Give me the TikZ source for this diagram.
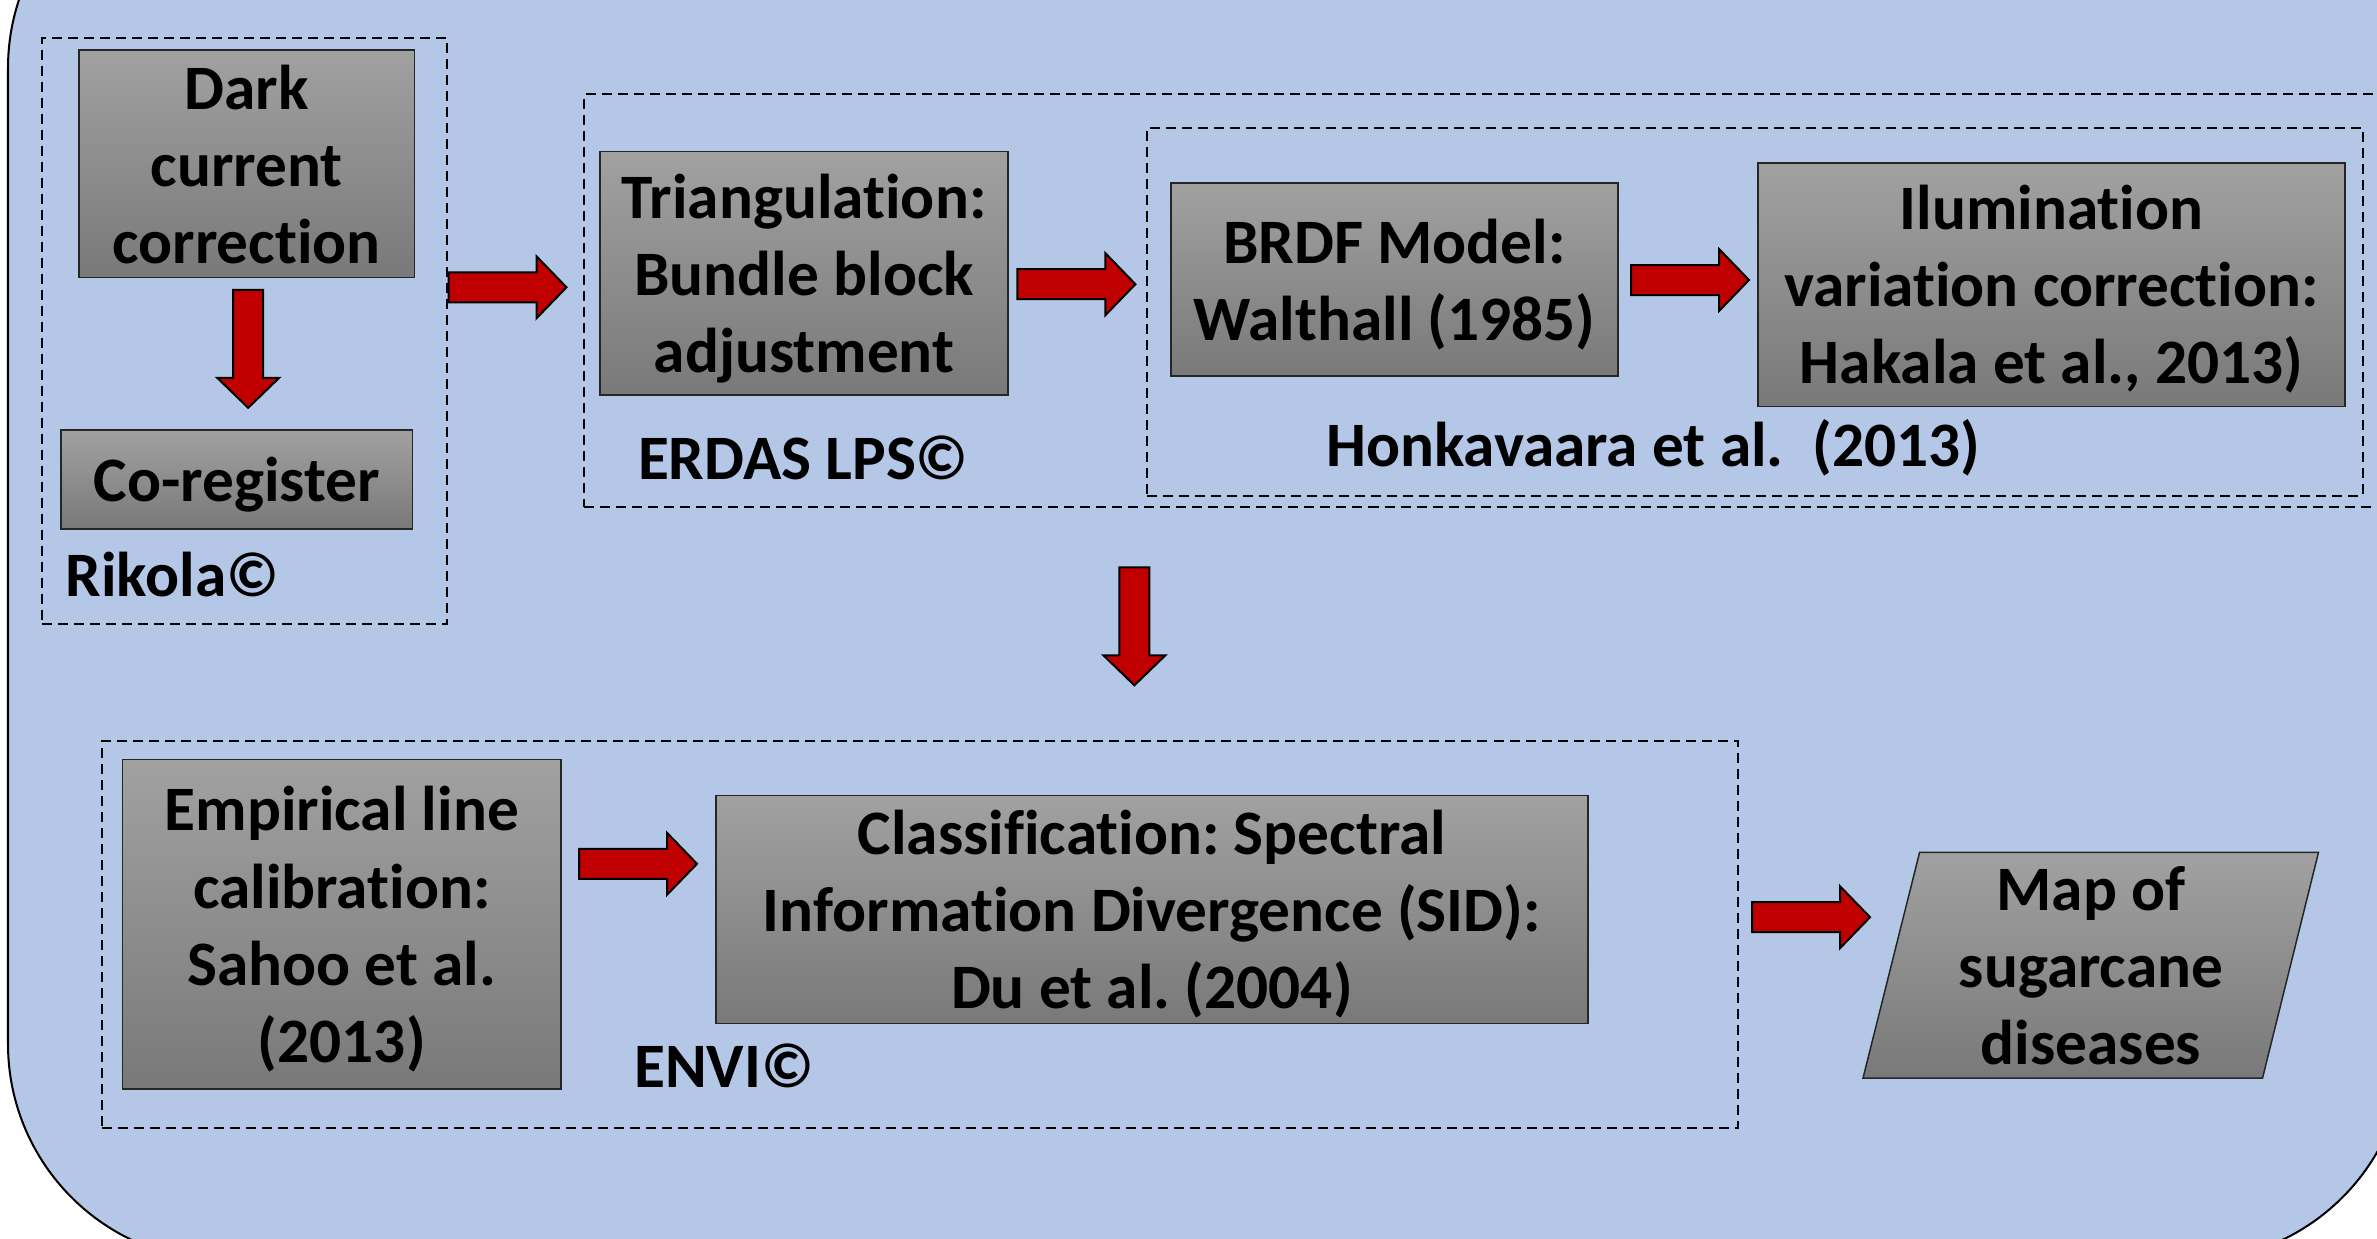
\documentclass[tikz,border=0pt]{standalone}
\usepackage{fontspec}
\setmainfont[Ligatures=NoCommon]{Carlito}
\frenchspacing
\definecolor{bgblue}{RGB}{180,199,231}
\definecolor{boxtop}{RGB}{161,161,161}
\definecolor{boxbot}{RGB}{121,121,121}
\definecolor{arrred}{RGB}{192,0,0}
\newcommand\nodp[1]{\raisebox{0pt}[\height][0pt]{#1}}
\newcommand\rarrow[2]{\draw[redarrow] (#1,#2-15) -- (#1+88,#2-15) -- (#1+88,#2-31) -- (#1+118,#2) -- (#1+88,#2+31) -- (#1+88,#2+15) -- (#1,#2+15) -- cycle;}
\newcommand\darrow[2]{\draw[redarrow] (#1-15,#2) -- (#1+15,#2) -- (#1+15,#2+88) -- (#1+31,#2+88) -- (#1,#2+118) -- (#1-31,#2+88) -- (#1-15,#2+88) -- cycle;}
\begin{document}
\begin{tikzpicture}[x=0.01cm,y=-0.01cm,
  font=\bfseries\fontsize{18}{21.9}\selectfont\frenchspacing,
  graybox/.style={draw=black!85, line width=0.015cm, top color=boxtop, bottom color=boxbot, align=center, inner sep=0pt},
  group/.style={draw=black, dash pattern=on 0.1cm off 0.06cm, line width=0.02cm, inner sep=0pt},
  redarrow/.style={fill=arrred, draw=black, line width=0.02cm, line join=miter},
  lbl/.style={anchor=base west, inner sep=0pt}]
\clip (0,0) rectangle (2377,1239);
\fill[white] (0,0) rectangle (2377,1239);
% background panel
\draw[fill=bgblue, draw=black, line width=0.02cm, rounded corners=2.17cm] (8,-149) rectangle (2406,1261);

% group boxes
\node[group, minimum width=4.05cm, minimum height=5.86cm] (rikolagrp) at (244.5,330.7) {};
\node[group, minimum width=18.155cm, minimum height=4.127cm] (erdasgrp) at (1492.3,300.7) {};
\node[group, minimum width=12.148cm, minimum height=3.672cm] (honkgrp) at (1754.9,311.9) {};
\node[group, minimum width=16.35cm, minimum height=3.87cm] (envigrp) at (919.7,934.7) {};

% process boxes
\node[graybox, minimum width=3.357cm, minimum height=2.274cm] (dark) at (246.7,163.9) {Dark\\current\\\nodp{correction}};
\node[graybox, minimum width=3.514cm, minimum height=0.992cm] (coreg) at (236.9,479.4) {\nodp{Co-register}};
\node[graybox, minimum width=4.08cm, minimum height=2.433cm] (triang) at (804,273.4) {Triangulation:\\Bundle block\\\nodp{adjustment}};
\node[graybox, minimum width=4.47cm, minimum height=1.93cm] (brdf) at (1394.4,279.5) {BRDF Model:\\\nodp{Walthall (1985)}};
\node[graybox, minimum width=5.87cm, minimum height=2.433cm] (ilum) at (2051.5,284.7) {Ilumination\\variation correction:\\\nodp{Hakala et al., 2013)}};
\node[graybox, minimum width=4.379cm, minimum height=3.29cm] (empir) at (341.8,924.3) {Empirical line\\calibration:\\Sahoo et al.\\\nodp{(2013)}};
\node[graybox, minimum width=8.714cm, minimum height=2.276cm] (classif) at (1151.9,909.5) {Classification: Spectral\\Information Divergence (SID):\\\nodp{Du et al. (2004)}};

% output parallelogram
\shade[top color=boxtop, bottom color=boxbot, draw=black!85, line width=0.015cm]
  (1919.6,852.3) -- (2318.5,852.3) -- (2262.5,1078.2) -- (1863,1078.2) -- cycle;
\node[align=center, inner sep=0pt] (map) at (2091,965.2) {Map of\\sugarcane\\\nodp{diseases}};

% group labels
\node[lbl] (rikolalbl) at (65,596) {Rikola©};
\node[lbl] (erdaslbl) at (637.4,479.3) {ERDAS LPS©};
\node[lbl] (honklbl) at (1325.6,466) {Honkavaara et al.\ \ (2013)};
\node[lbl] (envilbl) at (633.6,1087.7) {ENVI©};

% block arrows
\darrow{248.2}{289.8}
\rarrow{448.5}{287.3}
\rarrow{1017.4}{284.2}
\rarrow{1631}{280}
\darrow{1134.4}{567.3}
\rarrow{579}{863.8}
\rarrow{1752}{917.2}
\end{tikzpicture}
\end{document}
